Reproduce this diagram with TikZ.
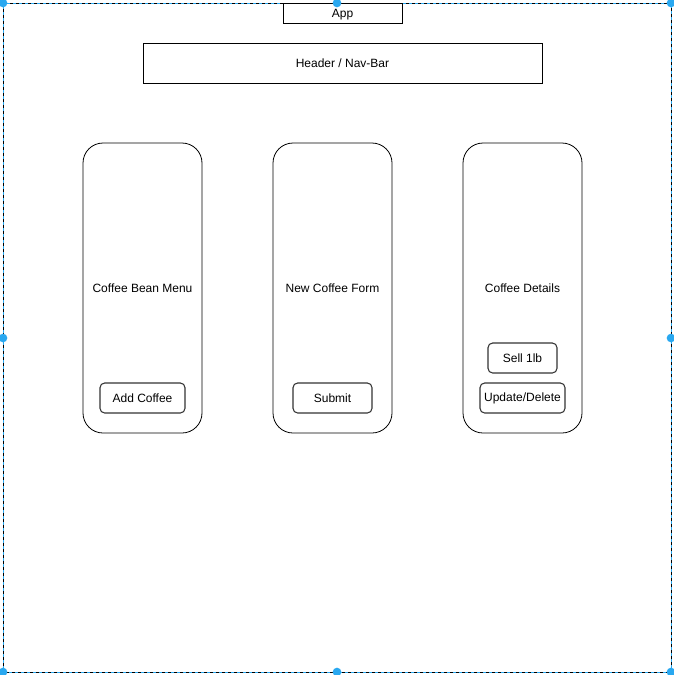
\documentclass[tikz,border=0pt]{standalone}
\usepackage{fontspec}
\setmainfont{Liberation Sans}
\usepackage{tikz}
\definecolor{selblue}{HTML}{29A8F0}

\begin{document}
\begin{tikzpicture}[x=0.75pt, y=-0.75pt, font=\fontsize{9}{11}\selectfont,
    box/.style={draw, rectangle, line width=0.6pt, inner sep=0pt},
    panel/.style={draw, rectangle, rounded corners=15, line width=0.6pt, minimum width=89.25pt, minimum height=217.5pt, inner sep=0pt},
    btn/.style={draw=black!80, rectangle, rounded corners=3.5, line width=0.8pt, minimum height=22.5pt, inner sep=0pt},
    handle/.style={circle, fill=selblue, inner sep=0pt, minimum size=6.5pt}]
            \useasboundingbox (0,0) rectangle (674,675);
            % selection frame
            \draw[selblue, line width=0.75pt] (3,3) rectangle (671,672);
            \draw[black, dashed, dash pattern=on 2.25pt off 2.25pt, line width=0.75pt] (3,3) rectangle (671,672);
            % nodes
            \node[box, minimum width=89.25pt, minimum height=15pt] (app) at (342.5,13) {};
            \node (applabel) at (342.5,14.5) {App};
            \node[box, minimum width=299.25pt, minimum height=30pt] (header) at (342.5,63) {Header / Nav-Bar};
            \node[panel] (menu) at (142.5,288) {Coffee Bean Menu};
            \node[panel] (form) at (332.5,288) {New Coffee Form};
            \node[panel] (details) at (522.5,288) {Coffee Details};
            \node[btn, minimum width=63.75pt] (addbtn) at (142.5,398) {Add Coffee};
            \node[btn, minimum width=59.25pt] (submitbtn) at (332.5,398) {Submit};
            \node[btn, minimum width=51.75pt] (sellbtn) at (522.5,358) {Sell 1lb};
            \node[btn, minimum width=63.75pt] (updbtn) at (522.5,398) {Update/Delete};
            % handles
            \foreach \hx/\hy in {3/3, 337/3, 671/3, 3/338, 671/338, 3/672, 337/672, 671/672}
                \node[handle] (h-\hx-\hy) at (\hx,\hy) {};
        \end{tikzpicture}
\end{document}
